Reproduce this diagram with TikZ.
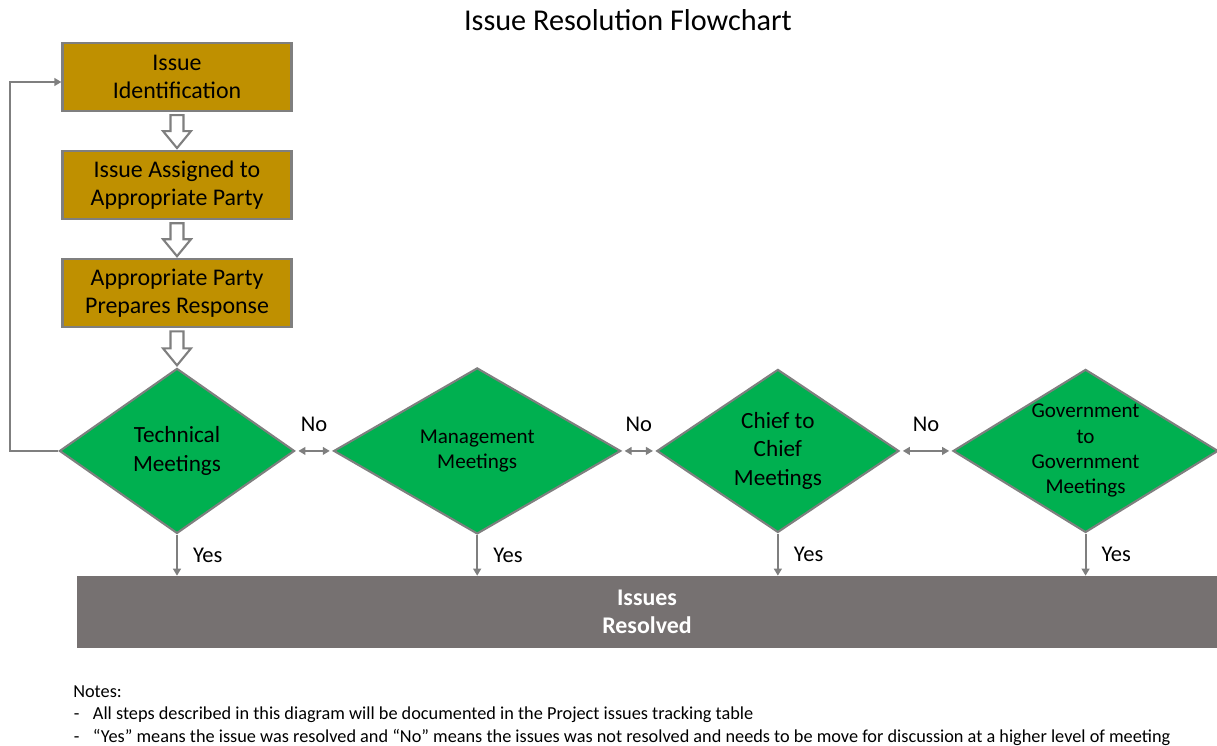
\documentclass[tikz,border=0pt]{standalone}
\usepackage{fontspec}
\setmainfont{Carlito}
\usetikzlibrary{arrows.meta, positioning, shapes.geometric, calc}
\definecolor{oro}{HTML}{BF9000}
\definecolor{verde}{HTML}{00B050}
\definecolor{grigio}{HTML}{767171}
\definecolor{linea}{HTML}{7F7F7F}

\begin{document}
\begin{tikzpicture}[x=0.025cm, y=-0.025cm, >={Triangle[length=5pt, width=5.5pt]},
			box/.style={rectangle, draw=linea, line width=1.5pt, fill=oro, minimum width=5.725cm, minimum height=1.7cm, align=center, font=\fontsize{17}{20}\selectfont},
			decision/.style={diamond, draw=linea, line width=1.5pt, fill=verde, inner sep=0pt, aspect=1.6, align=center, font=\fontsize{16.5}{20.5}\selectfont},
			smalltext/.style={font=\fontsize{15}{18}\selectfont},
			conn/.style={draw=linea, line width=1.5pt},
			hollow/.style={draw=linea, line width=1.5pt, fill=white, line join=miter},
			lbl/.style={inner sep=0pt, font=\fontsize{16}{19}\selectfont},
			node distance=0.95cm]
			
			\useasboundingbox (0,0) rectangle (1217,745);
			
			% Titolo
			\node[font=\fontsize{21.5}{26}\selectfont] (title) at (628,20) {Issue Resolution Flowchart};
			
			% Riquadri in colonna
			\node[box] (ident) at (177,77) {Issue\\Identification};
			\node[box, below=of ident] (assign) {Issue Assigned to\\Appropriate Party};
			\node[box, below=of assign] (prep) {Appropriate Party\\Prepares Response};
			
			% Rombi delle riunioni
			\node[decision, minimum width=5.875cm, minimum height=4.125cm, below=0.975cm of prep] (tech) {Technical\\Meetings};
			\node[decision, smalltext, minimum width=7.175cm, minimum height=4.15cm, right=0.925cm of tech] (mgmt) {Management\\Meetings};
			\node[decision, minimum width=6.05cm, minimum height=4.075cm, right=0.85cm of mgmt] (chief) {Chief to\\Chief\\Meetings};
			\node[decision, smalltext, minimum width=6.625cm, minimum height=4.075cm, right=1.3cm of chief] (gov) {Government\\to\\Government\\Meetings};
			
			% Barra finale
			\node[fill=grigio, minimum width=28.5cm, minimum height=1.8cm, text=white, align=center, font=\bfseries\fontsize{17}{20}\selectfont] (res) at (647,612) {Issues\\Resolved};
			
			% --- Frecce vuote tra i riquadri ---
			\foreach \a/\b in {ident/assign, assign/prep, prep/tech} {
				\path (\a.south) ++(0,3) coordinate (s) (\b.north) ++(0,-2) coordinate (t);
				\draw[hollow] ($(s)+(-6.5,0)$) -- ($(s |- t)+(-6.5,-17)$) -- ($(s |- t)+(-14,-17)$) -- (s |- t)
					-- ($(s |- t)+(14,-17)$) -- ($(s |- t)+(6.5,-17)$) -- ($(s)+(6.5,0)$) -- cycle;
			}
			
			% --- No ---
			\draw[conn, <->, shorten <=2pt, shorten >=2pt] (tech.east) -- (mgmt.west) node[lbl, midway, above=0.45cm] {No};
			\draw[conn, <->, shorten <=2pt, shorten >=2pt] (mgmt.east) -- (chief.west) node[lbl, midway, above=0.45cm] {No};
			\draw[conn, <->, shorten <=2pt, shorten >=2pt] (chief.east) -- (gov.west) node[lbl, midway, above=0.45cm] {No};
			
			% --- Yes ---
			\draw[conn, ->] (tech.south) -- (tech.south |- res.north) node[lbl, midway, right=0.375cm] {Yes};
			\draw[conn, ->] (mgmt.south) -- (mgmt.south |- res.north) node[lbl, midway, right=0.375cm] {Yes};
			\draw[conn, ->] (chief.south) -- (chief.south |- res.north) node[lbl, midway, right=0.375cm] {Yes};
			\draw[conn, ->] (gov.south) -- (gov.south |- res.north) node[lbl, midway, right=0.375cm] {Yes};
			
			% Ritorno all'inizio
			\draw[conn, ->] (tech.west) -- ++(-48,0) |- ([yshift=-1.25mm]ident.west);
			
			% Note
			\node[anchor=north west, inner sep=0pt, align=left, font=\fontsize{13}{16}\selectfont] (notes) at (73,685)
				{Notes:\\
				\makebox[14pt][l]{\hspace{0.5pt}-}All steps described in this diagram will be documented in the Project issues tracking table\\
				\makebox[14pt][l]{\hspace{0.5pt}-}“Yes” means the issue was resolved and “No” means the issues was not resolved and needs to be move for discussion at a higher level of meeting};
		\end{tikzpicture}
\end{document}
